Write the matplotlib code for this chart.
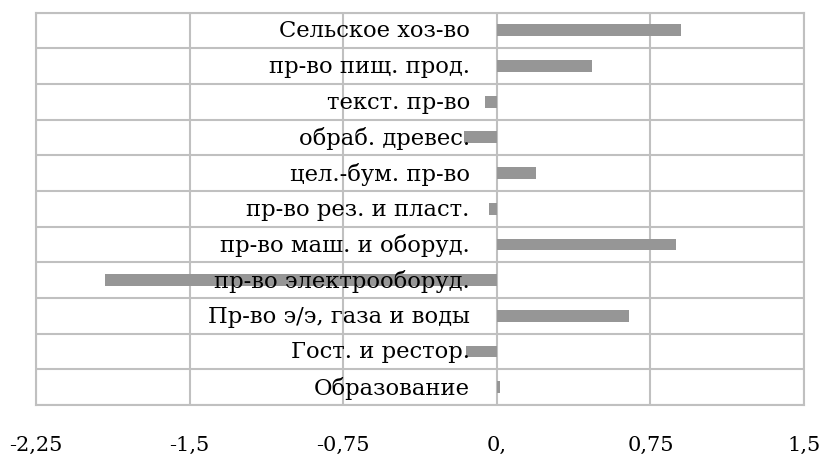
import matplotlib
matplotlib.use("Agg")
import matplotlib.pyplot as plt
import numpy as np

categories = [
    "Сельское хоз-во",
    "пр-во пищ. прод.",
    "текст. пр-во",
    "обраб. древес.",
    "цел.-бум. пр-во",
    "пр-во рез. и пласт.",
    "пр-во маш. и оборуд.",
    "пр-во электрооборуд.",
    "Пр-во э/э, газа и воды",
    "Гост. и рестор.",
    "Образование",
]
values = [0.90, 0.465, -0.06, -0.16, 0.19, -0.04, 0.875, -1.915, 0.643, -0.15, 0.015]
xticks = [-2.25, -1.5, -0.75, 0, 0.75, 1.5]
xtick_labels = ["-2,25", "-1,5", "-0,75", "0,", "0,75", "1,5"]

plt.rcParams["font.family"] = ["DejaVu Serif", "Liberation Serif"]

fig = plt.figure(figsize=(8.23, 4.55), dpi=100)
ax = fig.add_axes([0.0437, 0.110, 0.9333, 0.8625])

y = np.arange(len(categories))[::-1]
ax.barh(y, values, height=0.33, color="#969696", zorder=3)

ax.set_xlim(-2.25, 1.5)
ax.set_ylim(-0.5, len(categories) - 0.5)

# vertical grid at the value ticks, horizontal lines between categories
ax.set_xticks(xticks)
ax.set_xticklabels(xtick_labels, fontsize=15)
ax.set_yticks(np.arange(len(categories) + 1) - 0.5, minor=True)
ax.set_yticks([])
ax.grid(True, axis="x", color="#c0c0c0", linewidth=1.5, zorder=0)
ax.grid(True, axis="y", which="minor", color="#c0c0c0", linewidth=1.5, zorder=0)
ax.tick_params(axis="x", length=0, pad=22)
ax.tick_params(axis="y", which="both", length=0)
for s in ax.spines.values():
    s.set_color("#c0c0c0")
    s.set_linewidth(1.5)

# category names sit just left of the zero line
for yi, name in zip(y, categories):
    ax.annotate(name, (0, yi), xytext=(-27, -1), textcoords="offset pixels",
                ha="right", va="center", fontsize=16.3, zorder=4)

fig.savefig("out.png", dpi=100)
